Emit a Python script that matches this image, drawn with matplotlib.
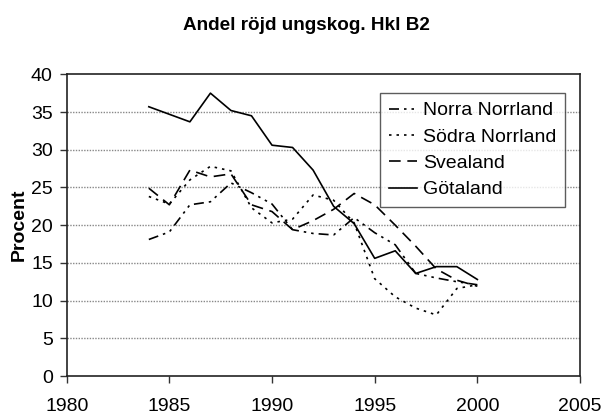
import matplotlib
matplotlib.use("Agg")
import matplotlib.pyplot as plt

years = [1984, 1985, 1986, 1987, 1988, 1989, 1990, 1991, 1992, 1993, 1994, 1995, 1996, 1997, 1998, 1999, 2000]
norra_norrland = [18.1, 19.1, 22.7, 23.1, 25.6, 24.3, 22.8, 19.4, 18.9, 18.7, 21.0, 19.0, 17.4, 13.6, 13.0, 12.5, 12.1]
sodra_norrland = [23.8, 22.8, 26.0, 27.8, 27.2, 22.3, 20.3, 20.8, 24.0, 23.3, 20.3, 12.9, 10.5, 9.0, 8.1, 11.6, 12.1]
svealand = [24.9, 22.7, 27.3, 26.4, 26.8, 22.7, 21.8, 19.4, 20.6, 22.1, 24.2, 22.7, 20.0, 17.2, 14.2, 12.7, 11.9]
gotaland = [35.7, 34.7, 33.7, 37.5, 35.2, 34.5, 30.6, 30.3, 27.3, 22.5, 20.2, 15.6, 16.6, 13.6, 14.5, 14.5, 12.8]
series_names = ["Norra Norrland", "Södra Norrland", "Svealand", "Götaland"]
x_ticks = [1980, 1985, 1990, 1995, 2000, 2005]
y_ticks = [0, 5, 10, 15, 20, 25, 30, 35, 40]

plt.rcParams['font.family'] = ['Liberation Sans', 'DejaVu Sans']

fig = plt.figure(figsize=(6.03, 4.17), dpi=100)
ax = fig.add_axes([0.1106, 0.0983, 0.8513, 0.7235])

lw = 1.2
ax.plot(years, norra_norrland, color='black', lw=lw, dashes=(6, 3, 1.5, 3, 1.5, 3), label=series_names[0])
ax.plot(years, sodra_norrland, color='black', lw=lw, dashes=(1.5, 3), label=series_names[1])
ax.plot(years, svealand, color='black', lw=lw, dashes=(7, 4), label=series_names[2])
ax.plot(years, gotaland, color='black', lw=lw, label=series_names[3])

ax.set_xlim(1980, 2005)
ax.set_ylim(0, 40)
ax.set_xticks(x_ticks)
ax.set_yticks(y_ticks)
ax.tick_params(axis='both', direction='out', length=5, width=1, labelsize=14, color='#333333')
ax.tick_params(axis='x', pad=11)
ax.tick_params(axis='y', pad=5)

for y in y_ticks[1:-1]:
    ax.axhline(y, color='#888888', lw=1.0, ls=(0, (1, 1)), zorder=0)

for s in ax.spines.values():
    s.set_color('#222222')
    s.set_linewidth(1.2)

ax.set_ylabel("Procent", fontsize=14, fontweight='bold', labelpad=2)
fig.text(0.509, 0.938, "Andel röjd ungskog. Hkl B2", ha='center', va='center', fontsize=13.6, fontweight='bold')

leg = ax.legend(loc='upper right', bbox_to_anchor=(0.971, 0.938), fontsize=14, frameon=True, fancybox=False,
                edgecolor='#333333', handlelength=1.45, handletextpad=0.3, labelspacing=0.45, borderpad=0.45,
                borderaxespad=0)
leg.get_frame().set_linewidth(1.0)

fig.savefig("out.png", dpi=100)
